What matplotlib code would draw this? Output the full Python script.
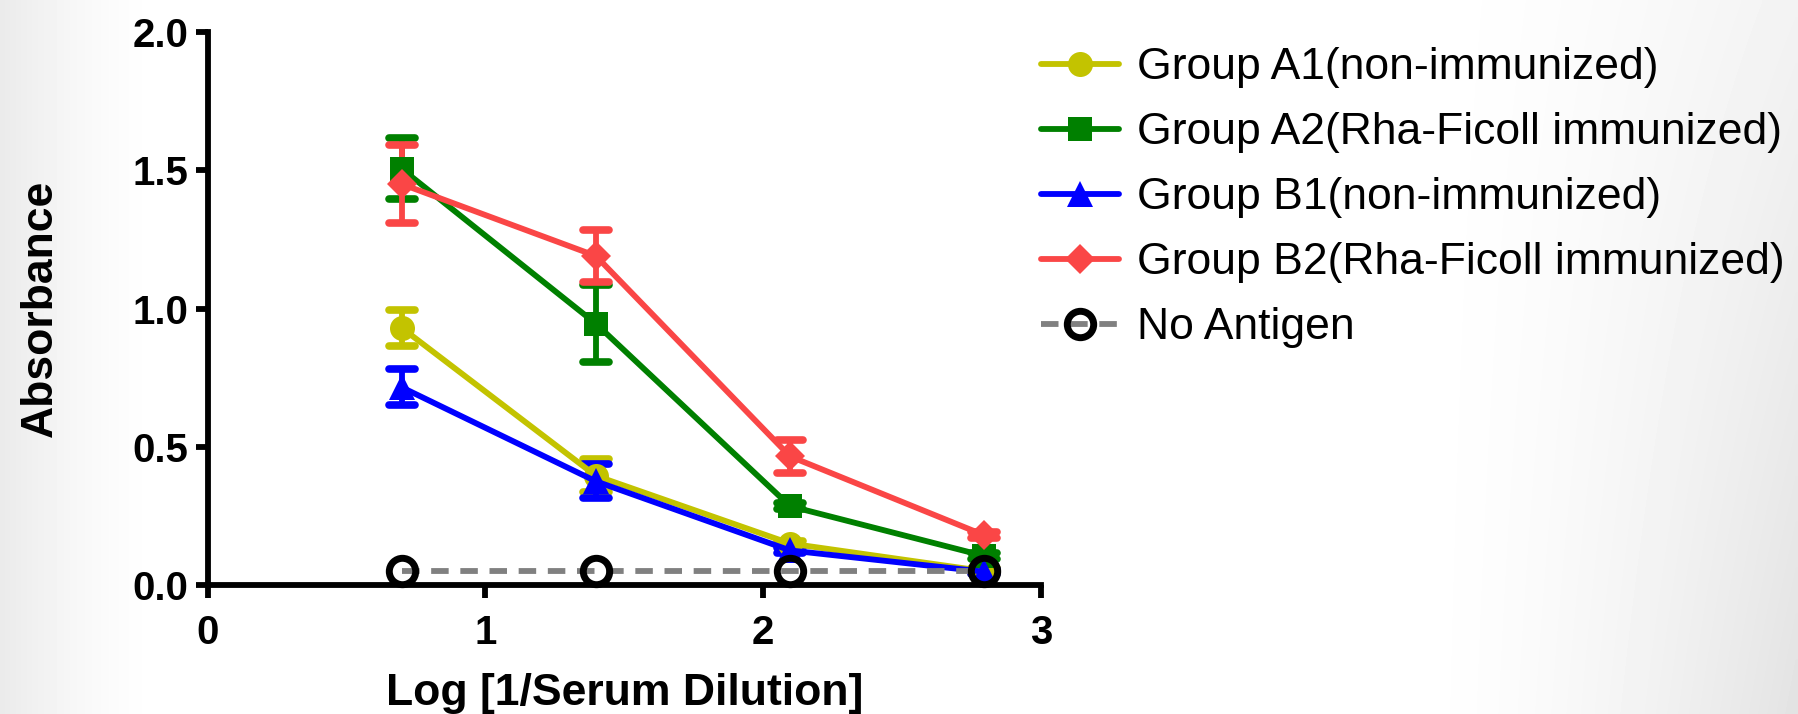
import numpy as np
import matplotlib
matplotlib.use("Agg")
import matplotlib.pyplot as plt
from matplotlib.markers import MarkerStyle

plt.rcParams['font.family'] = ['Liberation Sans', 'DejaVu Sans']

# log10 of reciprocal serum dilution (1:5, 1:25, 1:125, 1:625)
log_dilution = [0.699, 1.398, 2.097, 2.796]

a1_mean = [0.93, 0.395, 0.15, 0.05]
a1_err = [0.065, 0.06, 0.01, 0.01]
a2_mean = [1.505, 0.945, 0.285, 0.105]
a2_err = [0.11, 0.14, 0.01, 0.01]
b1_mean = [0.715, 0.375, 0.125, 0.048]
b1_err = [0.065, 0.062, 0.01, 0.01]
b2_mean = [1.45, 1.19, 0.465, 0.18]
b2_err = [0.14, 0.093, 0.06, 0.01]
no_antigen = [0.05, 0.05, 0.05, 0.05]

labels = [
    "Group A1(non-immunized)",
    "Group A2(Rha-Ficoll immunized)",
    "Group B1(non-immunized)",
    "Group B2(Rha-Ficoll immunized)",
    "No Antigen",
]

x_ticks = [0, 1, 2, 3]
y_ticks = [0.0, 0.5, 1.0, 1.5, 2.0]

W, H = 1798, 714
fig = plt.figure(figsize=(W / 100, H / 100), dpi=100)

# soft slide-style background shading
bg = fig.add_axes([0, 0, 1, 1], zorder=-10)
xx, yy = np.meshgrid(np.linspace(0, 1, 400), np.linspace(0, 1, 200))
left = 0.08 * np.clip(1 - xx / 0.09, 0, 1) ** 1.5
right = 0.11 * np.clip((xx - 0.78) / 0.22, 0, 1) ** 1.6 * (0.45 + 0.55 * yy)
shade = 1 - np.maximum(left, right)
bg.imshow(shade, cmap='gray', vmin=0, vmax=1, aspect='auto',
          extent=[0, 1, 0, 1], origin='upper', interpolation='bilinear')
bg.set_axis_off()

ax = fig.add_axes([207.5 / W, 1 - 585 / H, (1041 - 207.5) / W, (585 - 32) / H])
ax.set_facecolor('none')

series = [
    (a1_mean, a1_err, '#c3c300', 'o', 18),
    (a2_mean, a2_err, '#008000', 's', 17),
    (b1_mean, b1_err, '#0000ff', '^', 19),
    (b2_mean, b2_err, '#fa4646', 'D', 15),
]

handles = []
for (mean, err, color, marker, ms), label in zip(series, labels[:4]):
    cont = ax.errorbar(log_dilution, mean, yerr=err, color=color, marker=marker,
                       markersize=ms, linewidth=4.2, elinewidth=4.2,
                       capsize=9.5, capthick=5.5, label=label, clip_on=False)
    cont.lines[0].set_markeredgewidth(0)
    cont.lines[0].set_solid_capstyle('round')
    for cap in cont.lines[1]:
        cap.set_marker(MarkerStyle('_', capstyle='round'))
        cap.set_markeredgewidth(5.5)
    handles.append(cont.lines[0])

na_line, = ax.plot(log_dilution, no_antigen, color='#808080', linestyle=(0, (3, 2)),
                   linewidth=4.2, marker='o', markersize=19, markerfacecolor='none',
                   markeredgecolor='black', markeredgewidth=5, label=labels[4],
                   clip_on=False, zorder=5)
handles.append(na_line)

ax.set_xlim(0, 3)
ax.set_ylim(0, 2.0)
ax.set_xticks(x_ticks)
ax.set_yticks(y_ticks)
ax.set_xticklabels([str(v) for v in x_ticks])
ax.set_yticklabels([f"{v:.1f}" for v in y_ticks])

for side in ('top', 'right'):
    ax.spines[side].set_visible(False)
for side in ('left', 'bottom'):
    ax.spines[side].set_linewidth(4.2)
    ax.spines[side].set_capstyle('projecting')

ax.tick_params(axis='both', which='major', direction='out', length=9, width=4.2,
               labelsize=29)
ax.tick_params(axis='x', pad=12)
ax.tick_params(axis='y', pad=5)
for lbl in ax.get_xticklabels() + ax.get_yticklabels():
    lbl.set_fontweight('bold')

xl = ax.set_xlabel("Log [1/Serum Dilution]", fontsize=32, fontweight='bold')
yl = ax.set_ylabel("Absorbance", fontsize=32, fontweight='bold')
ax.xaxis.set_label_coords(0.5, -0.197)
xl.set_va('center')
ax.yaxis.set_label_coords(-0.2, 0.5)
yl.set_va('center')

leg = ax.legend(handles=handles, labels=labels, loc='upper left',
                bbox_to_anchor=(1.0, 0.972), frameon=False, fontsize=32,
                handlelength=1.75, handletextpad=0.4, labelspacing=0.54,
                borderaxespad=0.0, borderpad=0.0, markerscale=1.0)

fig.savefig("out.png", dpi=100)
